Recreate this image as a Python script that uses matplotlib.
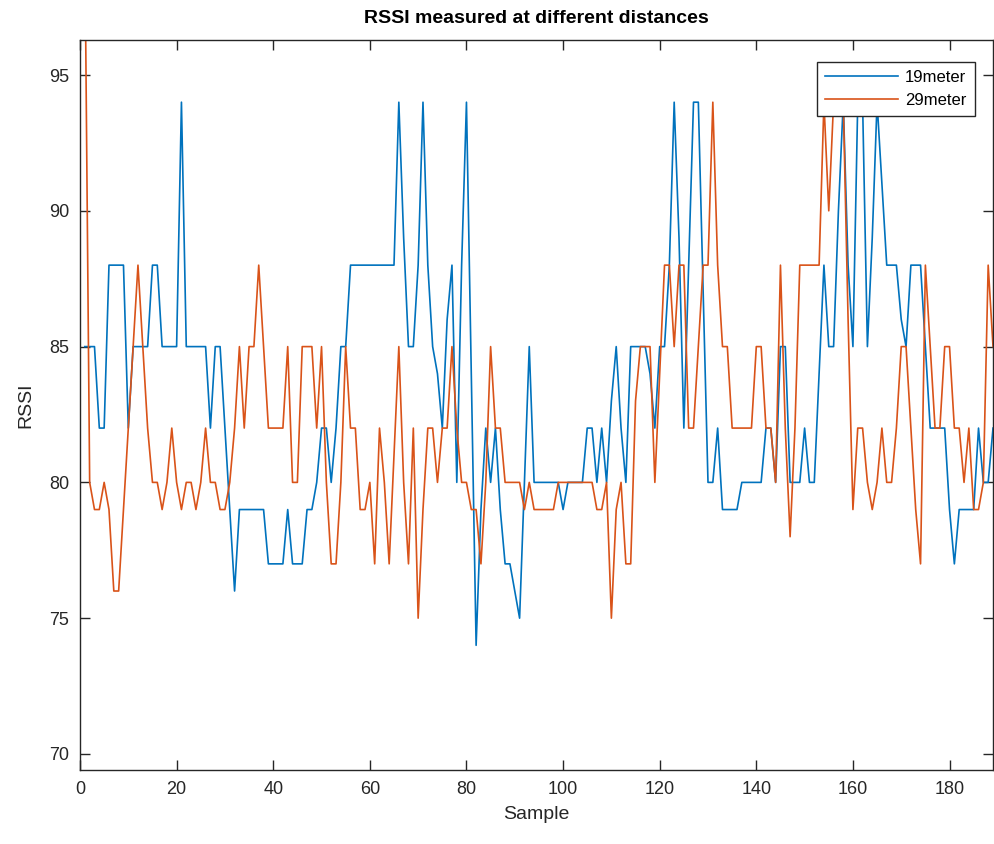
import matplotlib
matplotlib.use('Agg')
import matplotlib.pyplot as plt

plt.rcParams['font.family'] = ['Liberation Sans', 'DejaVu Sans']

# RSSI readings, one per sample (sample index starts at 1)
rssi_19m = [85, 85, 85, 82, 82, 88, 88, 88, 88, 82,
            85, 85, 85, 85, 88, 88, 85, 85, 85, 85,
            94, 85, 85, 85, 85, 85, 82, 85, 85, 82,
            79, 76, 79, 79, 79, 79, 79, 79, 77, 77,
            77, 77, 79, 77, 77, 77, 79, 79, 80, 82,
            82, 80, 82, 85, 85, 88, 88, 88, 88, 88,
            88, 88, 88, 88, 88, 94, 89, 85, 85, 88,
            94, 88, 85, 84, 82, 86, 88, 80, 88, 94,
            84, 74, 79, 82, 80, 82, 79, 77, 77, 76,
            75, 80, 85, 80, 80, 80, 80, 80, 80, 79,
            80, 80, 80, 80, 82, 82, 80, 82, 80, 83,
            85, 82, 80, 85, 85, 85, 85, 84, 82, 85,
            85, 88, 94, 89, 82, 88, 94, 94, 87, 80,
            80, 82, 79, 79, 79, 79, 80, 80, 80, 80,
            80, 82, 82, 80, 85, 85, 80, 80, 80, 82,
            80, 80, 84, 88, 85, 85, 90, 94, 88, 85,
            94, 94, 85, 89, 94, 91, 88, 88, 88, 86,
            85, 88, 88, 88, 85, 82, 82, 82, 82, 79,
            77, 79, 79, 79, 79, 82, 80, 80, 82]

rssi_29m = [100, 80, 79, 79, 80, 79, 76, 76, 79, 82,
            85, 88, 85, 82, 80, 80, 79, 80, 82, 80,
            79, 80, 80, 79, 80, 82, 80, 80, 79, 79,
            80, 82, 85, 82, 85, 85, 88, 85, 82, 82,
            82, 82, 85, 80, 80, 85, 85, 85, 82, 85,
            80, 77, 77, 80, 85, 82, 82, 79, 79, 80,
            77, 82, 80, 77, 81, 85, 80, 77, 82, 75,
            79, 82, 82, 80, 82, 82, 85, 82, 80, 80,
            79, 79, 77, 80, 85, 82, 82, 80, 80, 80,
            80, 79, 80, 79, 79, 79, 79, 79, 80, 80,
            80, 80, 80, 80, 80, 80, 79, 79, 80, 75,
            79, 80, 77, 77, 83, 85, 85, 85, 80, 84,
            88, 88, 85, 88, 88, 82, 82, 85, 88, 88,
            94, 88, 85, 85, 82, 82, 82, 82, 82, 85,
            85, 82, 82, 80, 88, 82, 78, 82, 88, 88,
            88, 88, 88, 94, 90, 94, 94, 94, 86, 79,
            82, 82, 80, 79, 80, 82, 80, 80, 82, 85,
            85, 82, 79, 77, 88, 85, 82, 82, 85, 85,
            82, 82, 80, 82, 79, 79, 80, 88, 85]

labels = ['19meter', '29meter']
samples = list(range(1, len(rssi_19m) + 1))

ink = '#262626'

fig = plt.figure(figsize=(9.95, 8.44), dpi=100)
ax = fig.add_axes([0.0804, 0.0877, 0.9176, 0.8649])

ax.plot(samples, rssi_19m, color='#0072BD', linewidth=1.2, label=labels[0])
ax.plot(samples, rssi_29m, color='#D95319', linewidth=1.2, label=labels[1])

ax.set_xlim(0, 189)
ax.set_ylim(69.41, 96.29)
ax.set_xticks(range(0, 181, 20))
ax.set_yticks(range(70, 96, 5))

ax.tick_params(direction='in', top=True, right=True, length=7, width=1,
               colors=ink, labelsize=13, pad=8)
for sp in ax.spines.values():
    sp.set_color(ink)
    sp.set_linewidth(1)

ax.set_xlabel('Sample', fontsize=14, color=ink, labelpad=6)
ax.set_ylabel('RSSI', fontsize=14, color=ink, labelpad=10)
ax.set_title('RSSI measured at different distances', fontsize=14,
             fontweight='bold', color='black', pad=12)

leg = ax.legend(loc='upper right', bbox_to_anchor=(0.980, 0.970),
                borderaxespad=0, fancybox=False, framealpha=1,
                edgecolor=ink, fontsize=12, handlelength=4.4,
                borderpad=0.5, labelspacing=0.45, handletextpad=0.4)
leg.get_frame().set_linewidth(1)

fig.savefig('out.png', dpi=100)
